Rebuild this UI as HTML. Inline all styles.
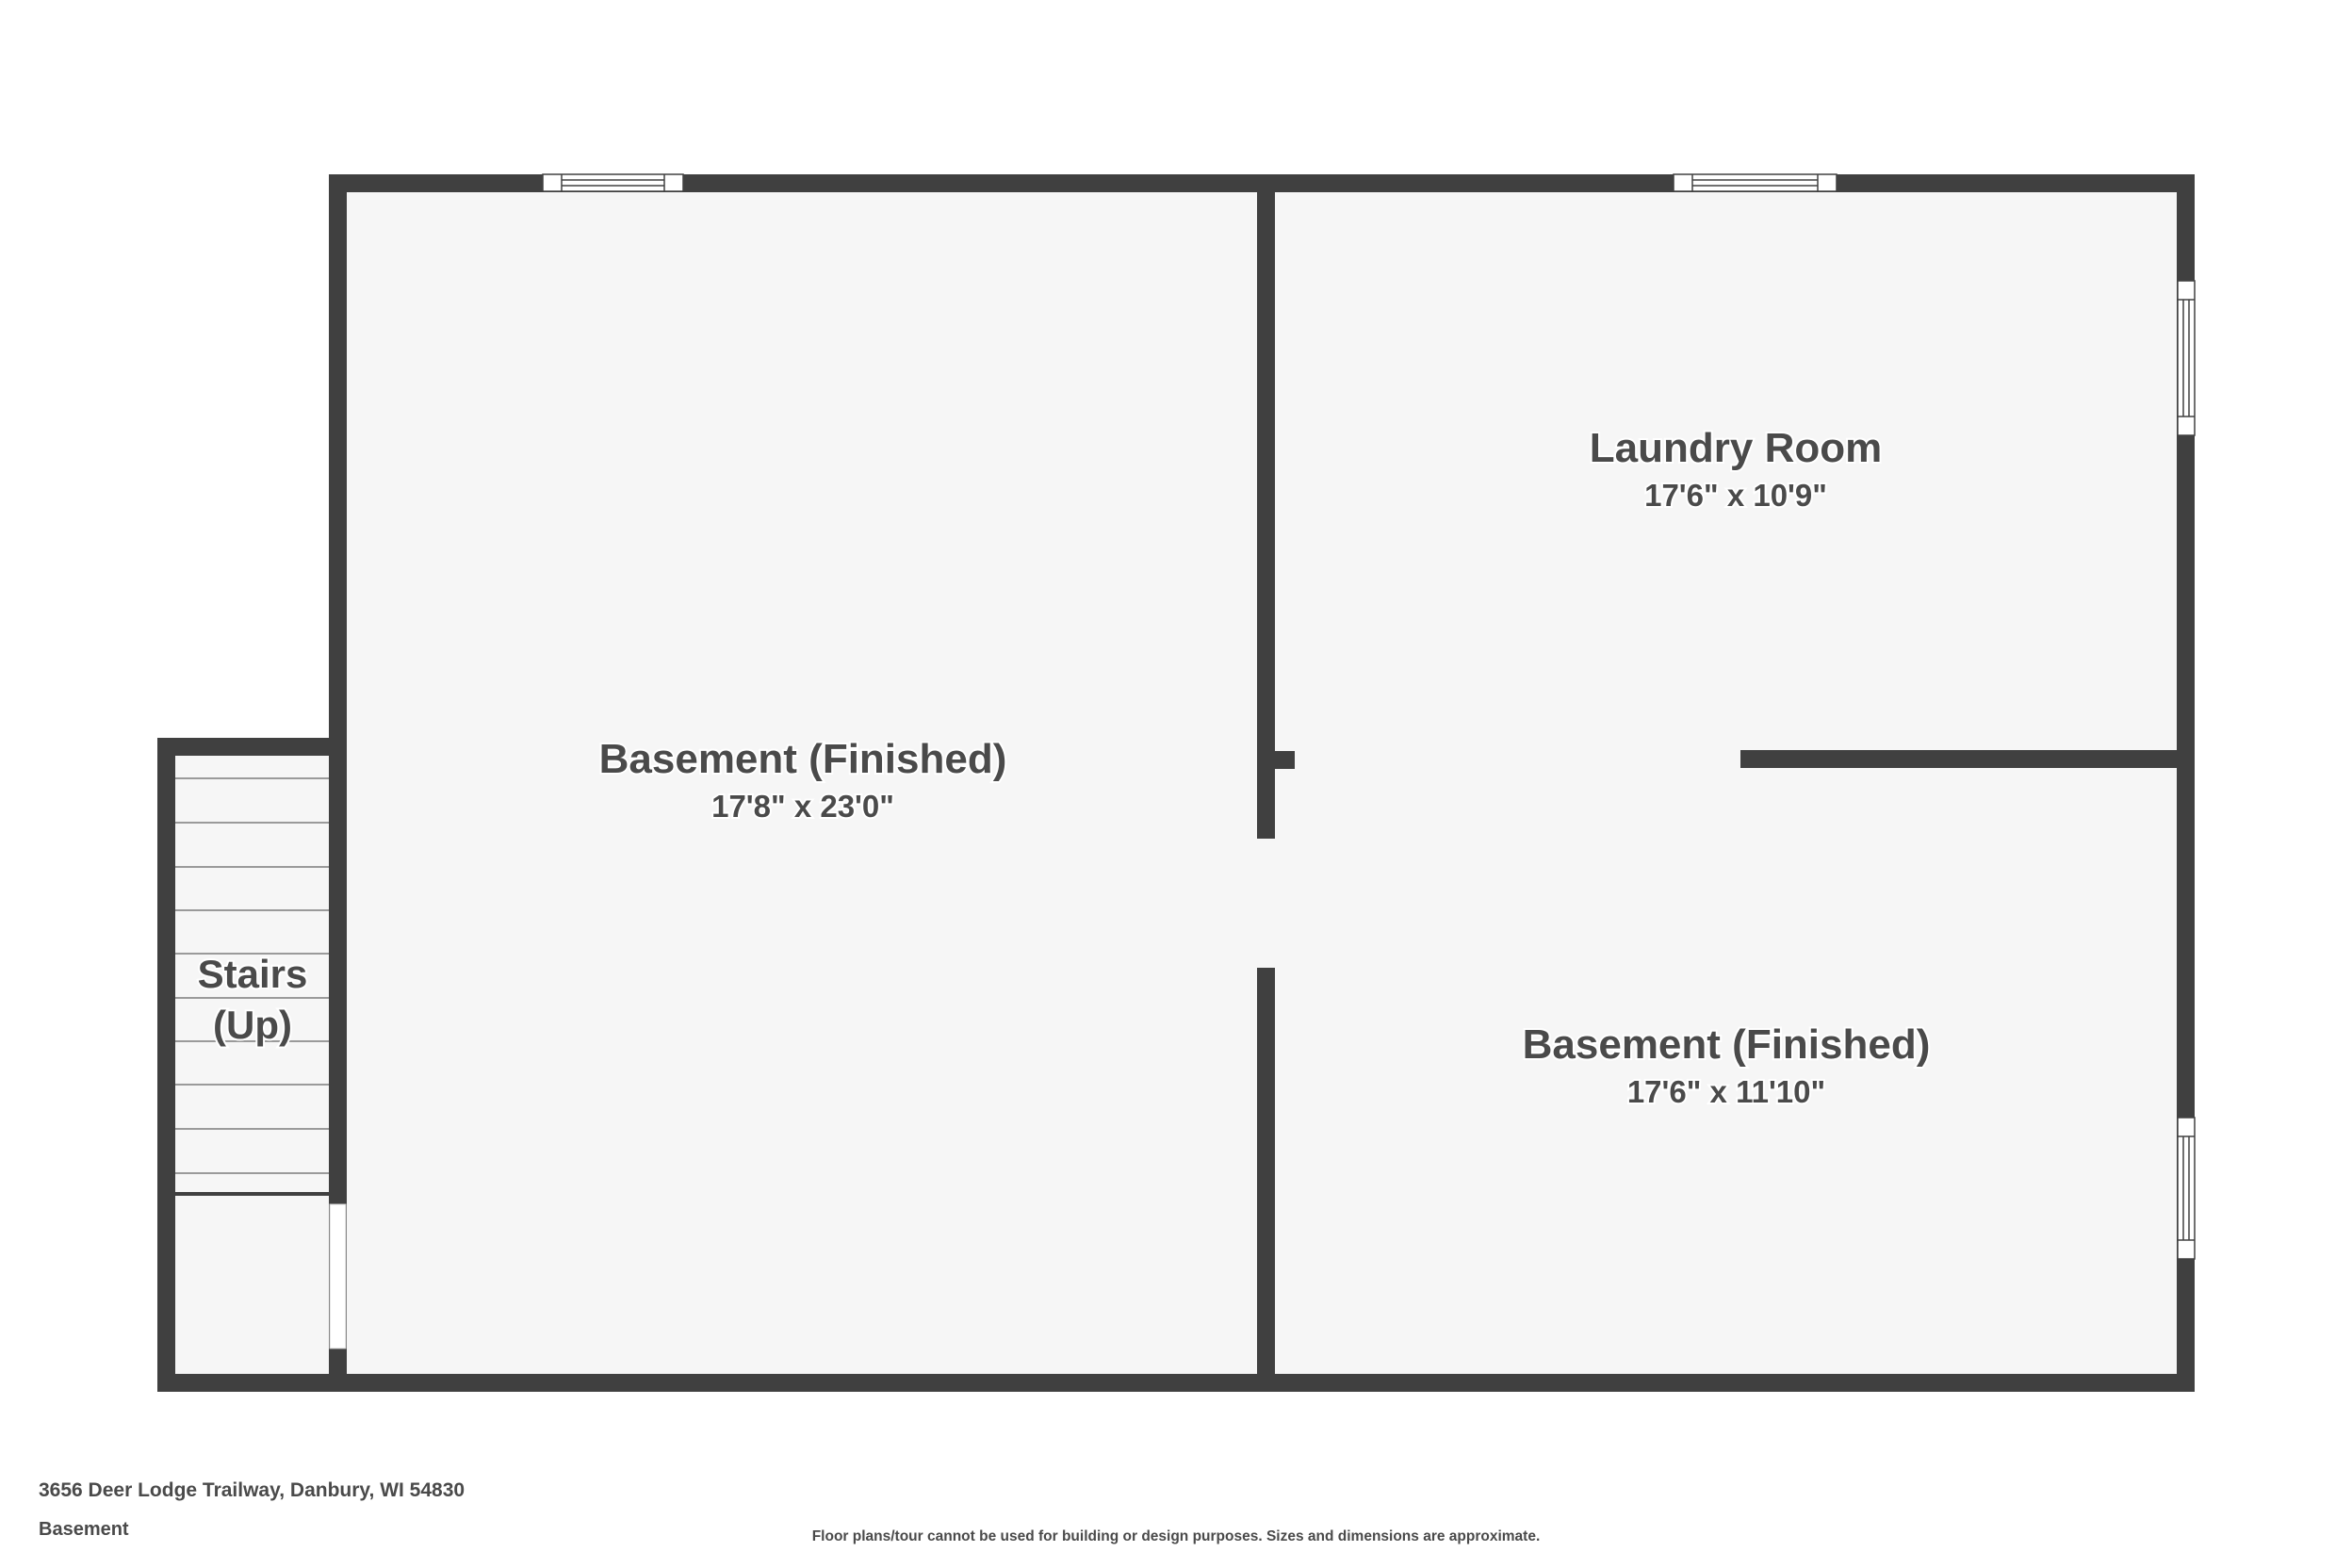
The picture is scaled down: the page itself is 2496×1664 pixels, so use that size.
<!DOCTYPE html>
<html><head><meta charset="utf-8"><style>
html,body{margin:0;padding:0;background:#fff;}
svg{display:block;}
.t{font-family:"Liberation Sans",sans-serif;font-weight:bold;fill:#4a4a4a;stroke:#fff;stroke-width:4px;paint-order:stroke;text-anchor:middle;}
.f{font-family:"Liberation Sans",sans-serif;font-weight:bold;fill:#4a4a4a;}
</style></head><body>
<svg width="2496" height="1664" viewBox="0 0 2496 1664" xmlns="http://www.w3.org/2000/svg">
<rect width="2496" height="1664" fill="#fff"/>
<rect x="349" y="185" width="1980" height="1292" fill="#f6f6f6"/>
<rect x="167" y="783" width="200" height="694" fill="#f6f6f6"/>
<g stroke="#9a9a9a" stroke-width="2">
<line x1="186" x2="349" y1="826" y2="826"/>
<line x1="186" x2="349" y1="873" y2="873"/>
<line x1="186" x2="349" y1="920" y2="920"/>
<line x1="186" x2="349" y1="966" y2="966"/>
<line x1="186" x2="349" y1="1012" y2="1012"/>
<line x1="186" x2="349" y1="1059" y2="1059"/>
<line x1="186" x2="349" y1="1105" y2="1105"/>
<line x1="186" x2="349" y1="1151" y2="1151"/>
<line x1="186" x2="349" y1="1198" y2="1198"/>
<line x1="186" x2="349" y1="1245" y2="1245"/>
</g>
<rect x="186" y="1265" width="163" height="4" fill="#404040"/>
<g fill="#404040">
<rect x="349" y="185" width="1980" height="19"/>
<rect x="349" y="185" width="19" height="1292"/>
<rect x="2310" y="185" width="19" height="1292"/>
<rect x="167" y="1458" width="2162" height="19"/>
<rect x="167" y="783" width="19" height="694"/>
<rect x="167" y="783" width="200" height="19"/>
<rect x="1334" y="185" width="19" height="705"/>
<rect x="1334" y="1027" width="19" height="450"/>
<rect x="1353" y="797" width="21" height="19"/>
<rect x="1847" y="796" width="482" height="19"/>
</g>
<g fill="#fff" stroke="#404040" stroke-width="1.5">
<rect x="576" y="185" width="149" height="18"/>
<line x1="596" x2="705" y1="191" y2="191"/><line x1="596" x2="705" y1="197" y2="197"/>
<line x1="596" x2="596" y1="185" y2="203"/><line x1="705" x2="705" y1="185" y2="203"/>
<rect x="1776" y="185" width="173" height="18"/>
<line x1="1796" x2="1929" y1="191" y2="191"/><line x1="1796" x2="1929" y1="197" y2="197"/>
<line x1="1796" x2="1796" y1="185" y2="203"/><line x1="1929" x2="1929" y1="185" y2="203"/>
<rect x="2311" y="298" width="18" height="164"/>
<line x1="2311" x2="2329" y1="318" y2="318"/><line x1="2311" x2="2329" y1="442" y2="442"/>
<line x1="2317" x2="2317" y1="318" y2="442"/><line x1="2323" x2="2323" y1="318" y2="442"/>
<rect x="2311" y="1186" width="18" height="150"/>
<line x1="2311" x2="2329" y1="1206" y2="1206"/><line x1="2311" x2="2329" y1="1316" y2="1316"/>
<line x1="2317" x2="2317" y1="1206" y2="1316"/><line x1="2323" x2="2323" y1="1206" y2="1316"/>
</g>
<rect x="350" y="1278" width="17" height="153" fill="#fff" stroke="#ccc" stroke-width="1"/>
<text class="t" x="852" y="820" font-size="44">Basement (Finished)</text>
<text class="t" x="852" y="867" font-size="33">17'8" x 23'0"</text>
<text class="t" x="1842" y="490" font-size="44">Laundry Room</text>
<text class="t" x="1842" y="537" font-size="33">17'6" x 10'9"</text>
<text class="t" x="1832" y="1123" font-size="44">Basement (Finished)</text>
<text class="t" x="1832" y="1170" font-size="33">17'6" x 11'10"</text>
<text class="t" x="268" y="1048" font-size="42">Stairs</text>
<text class="t" x="268" y="1102" font-size="42">(Up)</text>
<text class="f" x="41" y="1588" font-size="21">3656 Deer Lodge Trailway, Danbury, WI 54830</text>
<text class="f" x="41" y="1629" font-size="20">Basement</text>
<text class="f" x="1248" y="1635" font-size="15.5" text-anchor="middle">Floor plans/tour cannot be used for building or design purposes. Sizes and dimensions are approximate.</text>
</svg>
</body></html>
